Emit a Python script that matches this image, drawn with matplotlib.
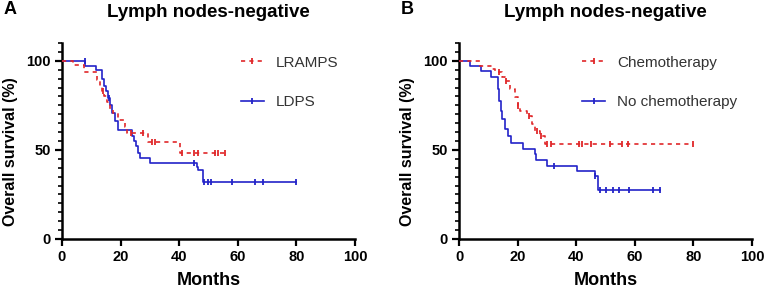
import matplotlib
matplotlib.use("Agg")
import matplotlib.pyplot as plt
from matplotlib.lines import Line2D
from matplotlib.ticker import MultipleLocator

plt.rcParams['font.family'] = ['Liberation Sans', 'DejaVu Sans']

# ---------------- data ----------------
# Panel A
a_red_label = "LRAMPS"
a_red_t = [0, 3.8, 7.5, 11.8, 13.0, 13.8, 14.5, 15.5, 16.5, 17.4, 19.0, 21.5, 22.3, 29.4, 40.3, 55.6]
a_red_s = [100, 97.7, 94, 89, 86, 83, 80, 77, 73, 70.8, 67, 63, 59.7, 54.7, 48.1, 48.1]
a_red_ct = [14.0, 23.4, 27.7, 30.6, 31.7, 40.8, 45.0, 46.4, 52.2, 53.2, 55.6]
a_red_cs = [83, 59.7, 59.7, 54.7, 54.7, 48.1, 48.1, 48.1, 48.1, 48.1, 48.1]

a_blue_label = "LDPS"
a_blue_t = [0, 8.0, 11.6, 13.5, 14.2, 15.0, 15.7, 16.4, 17.2, 18.0, 19.0, 23.8, 24.5, 25.2, 26.0, 26.6, 30.0, 46.0, 46.5, 48.0, 80.0]
a_blue_s = [100, 97.2, 95, 90, 86, 83, 79, 75, 71, 66, 61, 58, 55, 52, 48.5, 45.3, 42.5, 40.6, 38.8, 32.2, 32.2]
a_blue_ct = [8.0, 16.0, 45.0, 48.5, 50.0, 51.0, 58.0, 66.0, 68.5, 80.0]
a_blue_cs = [100, 79, 42.5, 32.2, 32.2, 32.2, 32.2, 32.2, 32.2, 32.2]

# Panel B
b_red_label = "Chemotherapy"
b_red_t = [0, 7.2, 11.2, 12.3, 14.6, 15.7, 17.4, 19.0, 20.0, 20.8, 23.1, 24.8, 25.9, 27.6, 29.4, 80.0]
b_red_s = [100, 97, 95.5, 93.6, 91, 88.5, 84, 79.5, 74.7, 71.6, 69, 64.4, 60.6, 57.8, 53.5, 53.5]
b_red_ct = [13.5, 16.0, 20.3, 24.0, 26.5, 28.0, 29.9, 31.3, 41.0, 42.0, 45.0, 51.5, 55.5, 57.8, 80.0]
b_red_cs = [93.6, 88.5, 74.7, 69, 60.6, 57.8, 53.5, 53.5, 53.5, 53.5, 53.5, 53.5, 53.5, 53.5, 53.5]

b_blue_label = "No chemotherapy"
b_blue_t = [0, 3.8, 7.5, 10.9, 13.2, 13.6, 14.2, 14.7, 15.7, 16.7, 17.7, 22.0, 25.9, 26.3, 29.9, 40.4, 46.4, 47.5, 68.6]
b_blue_s = [100, 97.3, 94.5, 90.8, 84, 77.6, 72, 67.2, 61.6, 57.8, 54, 50.3, 47.5, 44.6, 41.2, 38, 35.2, 27.3, 27.3]
b_blue_ct = [32.5, 46.4, 48.1, 50.2, 52.7, 54.7, 58.1, 66.3, 68.6]
b_blue_cs = [41.2, 35.2, 27.3, 27.3, 27.3, 27.3, 27.3, 27.3, 27.3]

title = "Lymph nodes-negative"
xlabel = "Months"
ylabel = "Overall survival (%)"
xticks = [0, 20, 40, 60, 80, 100]
yticks = [0, 50, 100]

RED = "#e0282a"
BLUE = "#2323c8"

fig = plt.figure(figsize=(7.65, 2.95), dpi=100)

def panel(rect, letter, red, blue, legend_anchor):
    ax = fig.add_axes(rect)
    rt, rs, rct, rcs, rlab = red
    bt, bs, bct, bcs, blab = blue
    ax.step(bt, bs, where='post', color=BLUE, lw=1.2, zorder=3)
    ax.plot(bct, bcs, ls='none', marker='|', ms=5, mew=1.3, color=BLUE, zorder=3)
    ax.step(rt, rs, where='post', color=RED, lw=1.2, ls=(0, (2.5, 2.5)), zorder=4)
    ax.plot(rct, rcs, ls='none', marker='|', ms=5, mew=1.3, color=RED, zorder=4)
    ax.set_xlim(0, 100)
    ax.set_ylim(0, 110)
    ax.set_xticks(xticks)
    ax.set_yticks(yticks)
    ax.yaxis.set_minor_locator(MultipleLocator(5))
    for s in ['top', 'right']:
        ax.spines[s].set_visible(False)
    for s in ['left', 'bottom']:
        ax.spines[s].set_linewidth(1.8)
    ax.tick_params(axis='both', which='major', length=5, width=1.6, labelsize=10.5, pad=3)
    ax.tick_params(axis='y', which='minor', length=3, width=1.2)
    for lab in ax.get_xticklabels() + ax.get_yticklabels():
        lab.set_fontweight('bold')
    ax.set_xlabel(xlabel, fontsize=13, fontweight='bold', labelpad=6)
    ax.set_ylabel(ylabel, fontsize=11.5, fontweight='bold')
    ax.yaxis.set_label_coords(-0.15, 0.445)
    ax.set_title(title, fontsize=13.5, fontweight='bold', pad=19)
    ax.text(-0.2, 1.215, letter, transform=ax.transAxes, fontsize=13, fontweight='bold', va='top', ha='left')
    handles = [
        Line2D([0, 1], [0, 0], color=RED, lw=1.2, ls=(0, (2.5, 2.5)), marker='|', ms=5, mew=1.3),
        Line2D([0, 1], [0, 0], color=BLUE, lw=1.2, marker='|', ms=5, mew=1.3),
    ]
    leg = ax.legend(handles, [rlab, blab], loc='upper left', bbox_to_anchor=legend_anchor,
                    frameon=False, fontsize=11, numpoints=1, handlelength=1.5,
                    handletextpad=0.8, labelspacing=1.65, borderaxespad=0, borderpad=0)
    for t in leg.get_texts():
        t.set_color('#333333')
    return ax

panel([0.081, 0.19, 0.383, 0.664], "A",
      (a_red_t, a_red_s, a_red_ct, a_red_cs, a_red_label),
      (a_blue_t, a_blue_s, a_blue_ct, a_blue_cs, a_blue_label),
      (0.61, 0.935))
panel([0.600, 0.19, 0.383, 0.664], "B",
      (b_red_t, b_red_s, b_red_ct, b_red_cs, b_red_label),
      (b_blue_t, b_blue_s, b_blue_ct, b_blue_cs, b_blue_label),
      (0.42, 0.935))

fig.savefig("out.png", dpi=100)
